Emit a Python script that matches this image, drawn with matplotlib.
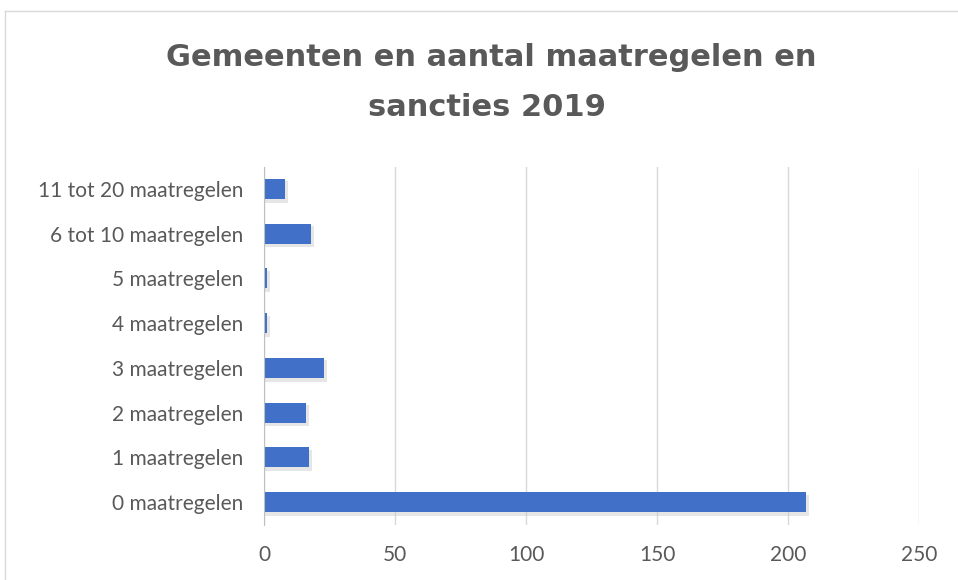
import matplotlib
matplotlib.use("Agg")
import matplotlib.pyplot as plt
from matplotlib.lines import Line2D

categories = ["0 maatregelen", "1 maatregelen", "2 maatregelen", "3 maatregelen",
              "4 maatregelen", "5 maatregelen", "6 tot 10 maatregelen", "11 tot 20 maatregelen"]
values = [207, 17, 16, 23, 1, 1, 18, 8]
xticks = [0, 50, 100, 150, 200, 250]

W, H = 958, 580
fig = plt.figure(figsize=(W / 100, H / 100), dpi=100)
plt.rcParams['font.family'] = ['Lato', 'DejaVu Sans']

ax = fig.add_axes([264 / W, 1 - 524.5 / H, (919 - 264) / W, (524.5 - 166.5) / H])
y = list(range(len(categories)))
# subtle shadow
ax.barh([v - 0.07 for v in y], [v + 1.2 for v in values], height=0.47, color="#c8c8c8",
        alpha=0.45, zorder=2)
ax.barh(y, values, height=0.45, color="#4170C8", zorder=3)

ax.set_xlim(0, 250)
ax.set_ylim(-0.5, len(categories) - 0.5)
ax.set_xticks(xticks)
ax.set_xticklabels([str(t) for t in xticks])
ax.set_yticks(y)
ax.set_yticklabels(categories)
ax.tick_params(length=0, labelsize=15, colors="#595959")
ax.tick_params(axis="x", pad=15)
ax.tick_params(axis="y", pad=15)
ax.grid(axis="x", color="#d9d9d9", linewidth=1, zorder=0)
ax.set_axisbelow(True)
for s in ["top", "right", "bottom"]:
    ax.spines[s].set_visible(False)
ax.spines["left"].set_color("#bfbfbf")
ax.spines["left"].set_zorder(4)

title_font = dict(ha="center", va="center", fontsize=22, fontweight="bold", color="#595959",
                  family=["DejaVu Sans"])
fig.text(491 / W, 1 - 57 / H, "Gemeenten en aantal maatregelen en", **title_font)
fig.text(487 / W, 1 - 107 / H, "sancties 2019", **title_font)

# chart border (left and top visible)
fig.add_artist(Line2D([4.5 / W, 4.5 / W], [0, 1 - 10.5 / H], transform=fig.transFigure,
                      color="#d9d9d9", linewidth=1))
fig.add_artist(Line2D([4.5 / W, 1], [1 - 10.5 / H, 1 - 10.5 / H], transform=fig.transFigure,
                      color="#d9d9d9", linewidth=1))

fig.savefig("out.png", dpi=100, facecolor="white")
